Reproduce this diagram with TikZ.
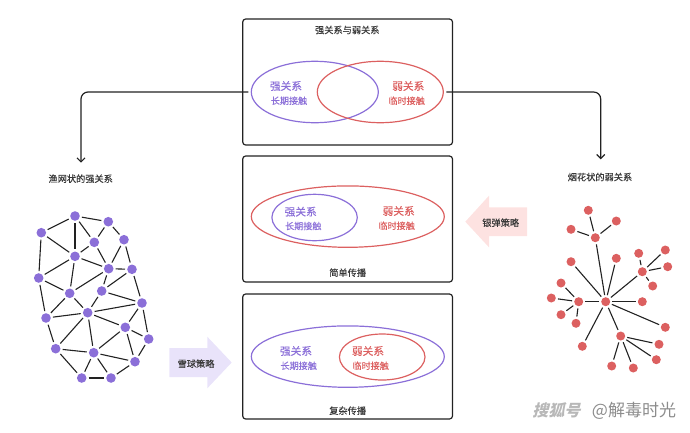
\documentclass[tikz,border=0pt]{standalone}
\usepackage{fontspec}
\setmainfont{Noto Sans CJK SC}
\newfontfamily\medf[FakeBold=0.3]{Noto Sans CJK SC}
\usetikzlibrary{arrows.meta}
\definecolor{pur}{HTML}{8B6FD8}
\definecolor{redc}{HTML}{DC6060}
\definecolor{ink}{HTML}{222222}
\tikzset{
  panel/.style={draw=ink,line width=1.2pt,rounded corners=3pt},
  pell/.style={draw=pur,line width=1.2pt},
  rell/.style={draw=redc,line width=1.2pt},
  big/.style={font=\medf\fontsize{10.7}{12}\selectfont},
  small/.style={font=\medf\fontsize{9.1}{11}\selectfont},
  captxt/.style={font=\medf\fontsize{9.2}{10}\selectfont,text=ink!90},
  pn/.style={circle,fill=pur,minimum size=9.6pt,inner sep=0pt,outer sep=2.2pt},
  rn/.style={circle,fill=redc,minimum size=9pt,inner sep=0pt,outer sep=2.2pt},
  ed/.style={draw=ink,line width=1.1pt},
  conn/.style={draw=ink,line width=1.2pt,rounded corners=7pt,-{Straight Barb[length=4pt,width=8pt]}}
}
\begin{document}
\begin{tikzpicture}[x=1pt,y=-1pt]
\useasboundingbox (0,0) rectangle (690,432);
% panels
\draw[panel] (242.7,19) rectangle (452.5,145);
\draw[panel] (242.7,156) rectangle (452.5,282);
\draw[panel] (242.7,294) rectangle (452.5,419);
% top ellipses
\draw[pell] (314.8,92) ellipse (63.5 and 30.7);
\draw[rell] (380.3,92) ellipse (63 and 30.7);
\coordinate (pw) at (251.3,92);
\coordinate (re) at (443.3,92);
% middle
\draw[rell] (347.8,216.6) ellipse (96.5 and 30.7);
\draw[pell] (314.6,217.5) ellipse (42.7 and 23.2);
% bottom
\draw[pell] (347.8,356.6) ellipse (96.5 and 30.7);
\draw[rell] (382.2,357) ellipse (42.8 and 23);
% texts
\node[captxt] (t1) at (347.3,30) {强关系与弱关系};
\node[big,text=pur] (t2) at (286,86) {强关系};
\node[small,text=pur] (t3) at (289,100.7) {长期接触};
\node[big,text=redc] (t4) at (408.3,86) {弱关系};
\node[small,text=redc] (t5) at (406.7,100.7) {临时接触};
\node[big,text=pur] (m1) at (300.7,211.7) {强关系};
\node[small,text=pur] (m2) at (303.3,226) {长期接触};
\node[big,text=redc] (m3) at (398.7,211) {弱关系};
\node[small,text=redc] (m4) at (396.7,225.7) {临时接触};
\node[captxt] (m5) at (347.7,272.7) {简单传播};
\node[big,text=pur] (b1) at (296,351) {强关系};
\node[small,text=pur] (b2) at (298.7,365.7) {长期接触};
\node[big,text=redc] (b3) at (368,351) {弱关系};
\node[small,text=redc] (b4) at (370.7,365.7) {临时接触};
\node[captxt] (b5) at (347.7,410.7) {复杂传播};
\node[captxt] (lnet) at (80.7,178.7) {渔网状的强关系};
\node[captxt] (rnet) at (600,177) {烟花状的弱关系};
% block arrows
\fill[fill={rgb,255:red,233;green,227;blue,250}] (169.3,348) -- (207.3,348) -- (207.3,336.7) -- (231.7,362.5) -- (207.3,388.3) -- (207.3,377) -- (169.3,377) -- cycle;
\fill[fill={rgb,255:red,253;green,226;blue,225}] (527,207.3) -- (489,207.3) -- (489,195.7) -- (465.3,221.7) -- (489,247.3) -- (489,236) -- (527,236) -- cycle;
\node[captxt] (snow) at (196,363.7) {雪球策略};
\node[captxt] (silver) at (500.7,222.7) {银弹策略};
% connectors
\coordinate (la) at (81,162.7);
\coordinate (ra) at (600.7,159.3);
\draw[conn] ([xshift=-3pt]pw) -- (la|-pw) -- (la);
\draw[conn] ([xshift=3pt]re) -- (ra|-re) -- (ra);
% fishing net
\foreach \n/\x/\y in {1/75/216,2/108.3/221.7,3/41.3/232.7,4/94.3/242.3,5/124/239.7,6/75/256.3,7/108.7/268.7,8/132/269.3,9/38.7/278,10/101.7/291,11/69.7/293.3,12/142/303,13/87.7/312.7,14/46/318,15/125.3/327.3,16/148.7/339,17/55.7/348.7,18/93.7/352.7,19/135/361.7,20/81.7/378,21/111/378}
  \node[pn] (a\n) at (\x,\y) {};
\foreach \p/\q in {1/2,1/3,1/4,1/6,2/4,2/5,3/6,3/9,4/6,4/7,5/7,5/8,6/7,6/9,6/11,7/8,7/10,7/11,8/10,8/12,9/11,9/14,10/12,10/13,11/13,11/14,12/13,12/15,12/16,13/14,13/15,13/17,13/18,14/17,15/16,15/18,15/19,16/19,17/18,17/20,18/19,18/20,18/21,19/21,20/21}
  \draw[ed] (a\p) -- (a\q);
% firework
\foreach \n/\x/\y in {0/605.7/301.7,1/588.3/210.3,2/616.3/221,3/571/229.3,4/595.3/237.7,5/571/261.7,6/616.3/258.3,7/638.7/253.3,8/665.3/250,9/667.7/266.7,10/642.3/271.7,11/652.7/286,12/561/283,13/551.3/298,14/578.7/301.7,15/642.3/301.7,16/561/314.7,17/576/323.3,18/665.3/327.3,19/620.7/336,20/582.3/346.3,21/659/344.3,22/656.3/359.7,23/611.7/366,24/633.3/368}
  \node[rn] (c\n) at (\x,\y) {};
\foreach \p/\q in {4/1,4/2,4/3,0/4,0/5,0/6,0/10,0/15,0/18,0/19,0/20,0/14,14/12,14/13,14/16,14/17,10/7,10/8,10/9,10/11,19/21,19/22,19/23,19/24}
  \draw[ed] (c\p) -- (c\q);
% watermark
\node[text=black!28,font=\bfseries\fontsize{16}{17}\selectfont,xslant=0.25] (wm1) at (558,410.7) {搜狐号};
\node[text=black!45,font=\fontsize{17}{19}\selectfont] (wm2) at (634,410.7) {@解毒时光};
\end{tikzpicture}
\end{document}
